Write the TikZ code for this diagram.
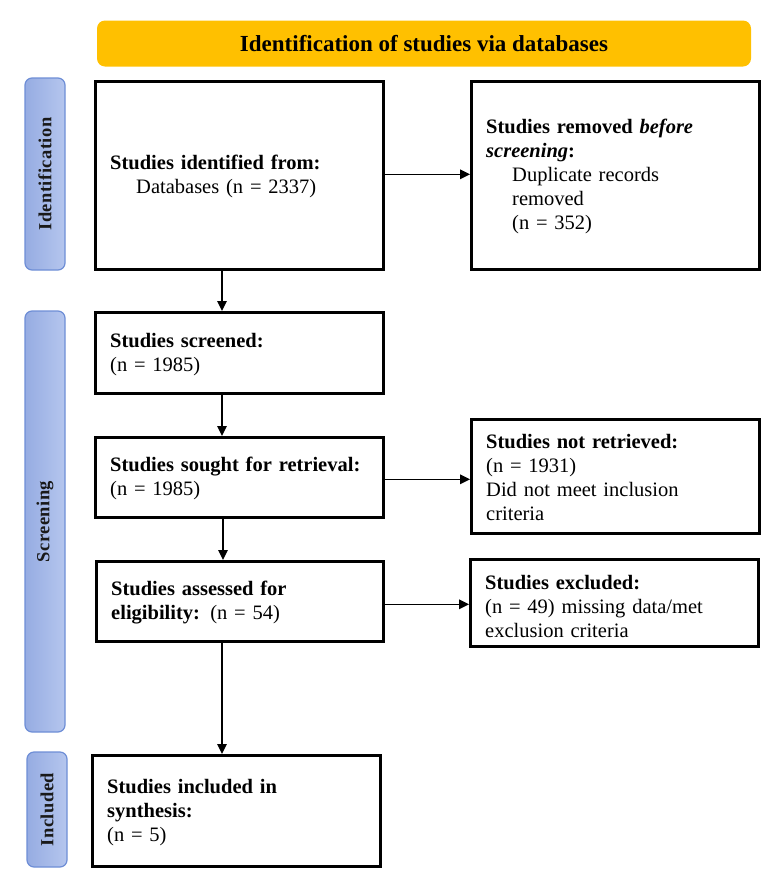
\documentclass[tikz,border=0pt]{standalone}
\usepackage{fontspec}
\setmainfont{Liberation Serif}
\newfontfamily\barfont[LetterSpace=2.5]{Liberation Serif}
\usetikzlibrary{arrows.meta}
\definecolor{hdrgold}{HTML}{FFC000}
\definecolor{barL}{HTML}{96ACE2}
\definecolor{barR}{HTML}{B5C6EE}
\definecolor{barE}{HTML}{6E8ED6}
\begin{document}
\begin{tikzpicture}[x=1pt,y=-1pt,
  box/.style={draw, line width=2.6pt, inner sep=0pt, anchor=north west},
  txt/.style={anchor=west, inner sep=0pt, text width=272pt, align=left,
    font=\fontsize{20.5}{24}\selectfont, xshift=16pt, yshift=-1.5pt},
  bar/.style={draw=barE, line width=1.2pt, rounded corners=7pt,
    left color=barL, right color=barR, minimum width=40pt, inner sep=0pt,
    text=black!90, font=\barfont\bfseries\fontsize{18.5}{20}\selectfont},
  arr/.style={line width=1.5pt, -{Triangle[length=10pt,width=9.5pt]}}
]
\useasboundingbox (0,0) rectangle (780,887);
% header
\node[fill=hdrgold, rounded corners=8pt, minimum width=654pt, minimum height=46pt,
  font=\bfseries\fontsize{23}{26}\selectfont] (hdr) at (424,43.5)
  {Identification of studies via databases};
% side bars
\node[bar, minimum height=192pt] (barid) at (45,174) {\rotatebox{90}{Identification}};
\node[bar, minimum height=421pt] (barsc) at (45,521.5) {\rotatebox{90}{Screening}};
\node[bar, minimum height=115pt] (barin) at (47,809.5) {\rotatebox{90}{Included}};
% boxes
\node[box, minimum width=288pt, minimum height=188pt] (b1) at (94,80) {};
\node[box, minimum width=288pt, minimum height=188pt] (b2) at (470,80) {};
\node[box, minimum width=288pt, minimum height=81pt] (b3) at (94,311) {};
\node[box, minimum width=288pt, minimum height=80pt] (b4) at (94,436) {};
\node[box, minimum width=288pt, minimum height=114pt] (b5) at (470,418) {};
\node[box, minimum width=287pt, minimum height=80pt] (b6) at (95,560) {};
\node[box, minimum width=288pt, minimum height=87pt] (b7) at (469,558) {};
\node[box, minimum width=288pt, minimum height=111pt] (b8) at (91,754) {};
% texts
\node[txt] (t1) at (b1.west) {\textbf{Studies identified from:}\\\hspace*{26pt}Databases (n = 2337)};
\node[txt] (t2) at (b2.west) {\textbf{Studies removed \textit{before}}\\\textbf{\textit{screening}:}\\\hspace*{26pt}Duplicate records\\\hspace*{26pt}removed\\\hspace*{26pt}(n = 352)};
\node[txt] (t3) at (b3.west) {\textbf{Studies screened:}\\(n = 1985)};
\node[txt] (t4) at (b4.west) {\textbf{Studies sought for retrieval:}\\(n = 1985)};
\node[txt] (t5) at (b5.west) {\textbf{Studies not retrieved:}\\(n = 1931)\\Did not meet inclusion\\criteria};
\node[txt] (t6) at (b6.west) {\textbf{Studies assessed for}\\\textbf{eligibility:} (n = 54)};
\node[txt, yshift=-2pt] (t7) at (b7.west) {\textbf{Studies excluded:}\\(n = 49) missing data/met\\exclusion criteria};
\node[txt] (t8) at (b8.west) {\textbf{Studies included in}\\\textbf{synthesis:}\\(n = 5)};
% connectors
\coordinate (cx) at (222,0);
\draw[arr] (b1.south -| cx) -- (b3.north -| cx);
\draw[arr] (b3.south -| cx) -- (b4.north -| cx);
\draw[arr] ([xshift=1pt]b4.south -| cx) -- ([xshift=1pt]b6.north -| cx);
\draw[arr] (b6.south -| cx) -- (b8.north -| cx);
\draw[arr] ([yshift=1pt]b1.east) -- ([yshift=1pt]b1.east -| b2.west);
\draw[arr] ([yshift=-2pt]b4.east) -- ([yshift=-2pt]b4.east -| b5.west);
\draw[arr] ([yshift=-3pt]b6.east) -- ([yshift=-3pt]b6.east -| b7.west);
\end{tikzpicture}
\end{document}
